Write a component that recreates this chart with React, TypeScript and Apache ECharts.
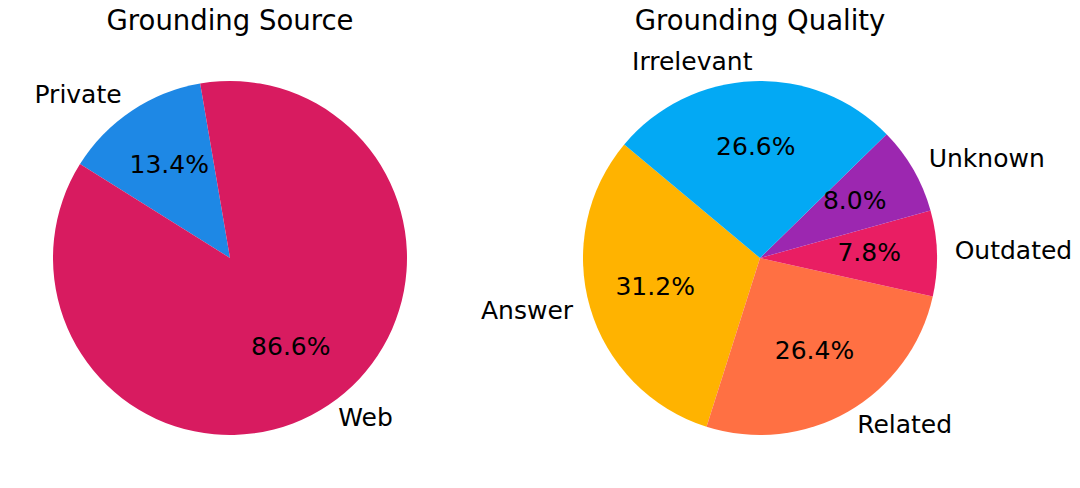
import React, { useEffect, useRef } from "react";
import * as echarts from "echarts";

const sourceNames = ["Private", "Web"];
const sourceValues = [13.4, 86.6];
const sourceColors = ["#1E88E5", "#D81B60"];

const qualityNames = ["Answer", "Related", "Outdated", "Unknown", "Irrelevant"];
const qualityValues = [31.2, 26.4, 7.8, 8.0, 26.6];
const qualityColors = ["#FFB300", "#FF7043", "#E91E63", "#9C27B0", "#03A9F4"];

const titles = ["Grounding Source", "Grounding Quality"];

const FONT = "DejaVu Sans";
const FS = 25;
const R = 177;

function buildData(names: string[], values: number[], colors: string[]) {
  return names.map((n, i) => ({ name: n, value: values[i], itemStyle: { color: colors[i] } }));
}

function pieSeries(center: number[], startAngle: number, names: string[], values: number[], colors: string[]) {
  const data = buildData(names, values, colors);
  return [
    {
      type: "pie",
      center,
      radius: [0, R],
      startAngle,
      clockwise: false,
      avoidLabelOverlap: false,
      silent: true,
      emphasis: { disabled: true },
      itemStyle: { borderWidth: 0 },
      label: {
        show: true,
        position: "outside",
        formatter: "{b}",
        fontFamily: FONT,
        fontSize: FS,
        color: "#000",
        distanceToLabelLine: 0,
      },
      labelLayout: { dy: -2 },
      labelLine: { show: false, length: R * 0.1, length2: 0 },
      data,
    },
    {
      type: "pie",
      center,
      radius: [R * 0.2, R],
      startAngle,
      clockwise: false,
      avoidLabelOverlap: false,
      silent: true,
      emphasis: { disabled: true },
      itemStyle: { color: "rgba(0,0,0,0)", borderWidth: 0 },
      label: {
        show: true,
        position: "inside",
        formatter: (p: any) => Number(p.value).toFixed(1) + "%",
        fontFamily: FONT,
        fontSize: FS,
        color: "#000",
      },
      labelLayout: { dy: -2.5 },
      labelLine: { show: false },
      data: names.map((n, i) => ({ name: n, value: values[i], itemStyle: { color: "rgba(0,0,0,0)" } })),
    },
  ];
}

export default function App() {
  const ref = useRef<HTMLDivElement>(null);
  useEffect(() => {
    if (!ref.current) return;
    const chart = echarts.init(ref.current, undefined, { renderer: "svg" });
    const titleStyle = { fontFamily: FONT, fontSize: 27.5, fontWeight: "normal", color: "#000" };
    chart.setOption({
      animation: false,
      backgroundColor: "#fff",
      title: [
        { text: titles[0], left: 230, top: 6, padding: 0, textAlign: "center", textStyle: titleStyle },
        { text: titles[1], left: 760, top: 6, padding: 0, textAlign: "center", textStyle: titleStyle },
      ],
      series: [
        ...pieSeries([230, 258], 99.7, sourceNames, sourceValues, sourceColors),
        ...pieSeries([760, 258], 140.1, qualityNames, qualityValues, qualityColors),
      ],
    });
    return () => chart.dispose();
  }, []);
  return (
    <div
      ref={ref}
      style={{ position: "fixed", left: 0, top: 0, width: 1080, height: 488 }}
    />
  );
}
